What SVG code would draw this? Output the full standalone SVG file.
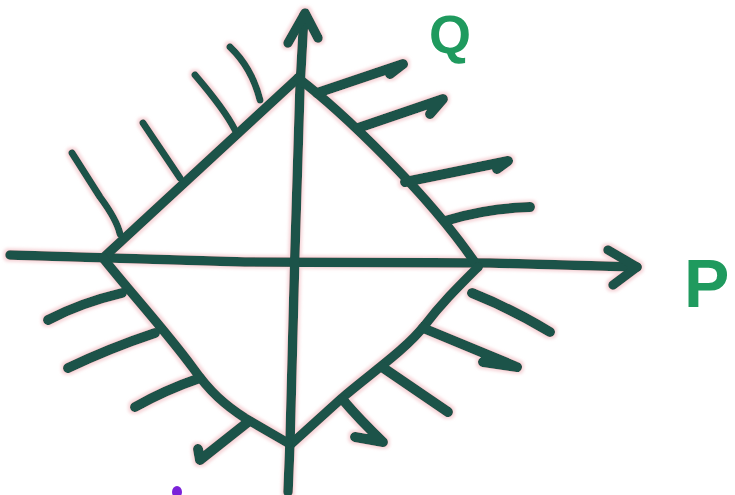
<svg xmlns="http://www.w3.org/2000/svg" width="735" height="495" viewBox="0 0 735 495">
  <defs>
    <filter id="halo" x="-5%" y="-5%" width="110%" height="110%">
      <feMorphology in="SourceAlpha" operator="dilate" radius="2" result="d"/>
      <feGaussianBlur in="d" stdDeviation="1.5" result="b"/>
      <feFlood flood-color="#f3c6cb" flood-opacity="0.7"/>
      <feComposite in2="b" operator="in" result="h"/>
      <feMerge><feMergeNode in="h"/><feMergeNode in="SourceGraphic"/></feMerge>
    </filter>
    <style>
      .ink { fill: none; stroke: #1e5248; stroke-linecap: round; stroke-linejoin: round; }
      .main { stroke-width: 9.5; }
      .thin { stroke-width: 7; }
      .thick { stroke-width: 10; }
      .lbl { font-family: "Liberation Sans", Arial, sans-serif; font-weight: bold; fill: #1f9a5e; }
    </style>
  </defs>
  <rect width="735" height="495" fill="#ffffff"/>

  <g id="connectors" filter="url(#halo)">
    <g id="axis-p">
      <path class="ink main" d="M10,255 L245,262 L490,263 L637,267"/>
      <path class="ink main" d="M608,250 L637,267 L613,285"/>
    </g>
    <g id="axis-q">
      <path class="ink main" d="M288,492 L290,442 L295,250 L300,87 L304,15"/>
      <path class="ink main" d="M288,43 L305,13 L318,38"/>
    </g>
    <g id="diamond">
      <path class="ink main" d="M103,258 L298,78"/>
      <path class="ink main" d="M298,78 C340,110 430,195 478,267"/>
      <path class="ink main" d="M478,267 C455,290 440,305 425,325 C405,350 375,370 342,398 L290,445"/>
      <path class="ink main" d="M103,258 C130,292 165,330 193,368 C210,392 225,405 245,418 L288,443"/>
    </g>
    <g id="ticks-upper-left">
      <path class="ink thin" d="M72,153 L100,197 Q117,220 120,234"/>
      <path class="ink thin" d="M143,123 L180,178"/>
      <path class="ink thin" d="M195,75 Q225,110 235,130"/>
      <path class="ink thin" d="M230,47 Q252,68 260,100"/>
    </g>
    <g id="ticks-upper-right">
      <path class="ink thick" d="M317,93 L403,64 L390,74"/>
      <path class="ink thick" d="M358,128 L443,99 L430,114"/>
      <path class="ink thick" d="M405,182 L508,161 L497,169"/>
      <path class="ink thick" d="M445,221 C470,213 500,208 530,207"/>
    </g>
    <g id="ticks-lower-right">
      <path class="ink thick" d="M472,293 Q510,308 550,332"/>
      <path class="ink thick" d="M423,328 L517,367 L483,362"/>
      <path class="ink thick" d="M382,367 L448,412"/>
      <path class="ink thick" d="M343,400 Q360,420 383,442 L355,437"/>
    </g>
    <g id="ticks-lower-left">
      <path class="ink thick" d="M122,293 Q80,303 48,320"/>
      <path class="ink thick" d="M155,333 Q110,348 68,368"/>
      <path class="ink thick" d="M200,378 Q165,390 135,407"/>
      <path class="ink thick" d="M248,422 L200,460 L198,449"/>
    </g>
  </g>

  <g id="label-q">
    <text class="lbl" x="429" y="53" font-size="54">Q</text>
  </g>
  <g id="label-p">
    <text class="lbl" x="684" y="307" font-size="68">P</text>
  </g>
  <g id="dot">
    <ellipse cx="177" cy="492" rx="5" ry="6" fill="#7b22d9"/>
  </g>
</svg>
